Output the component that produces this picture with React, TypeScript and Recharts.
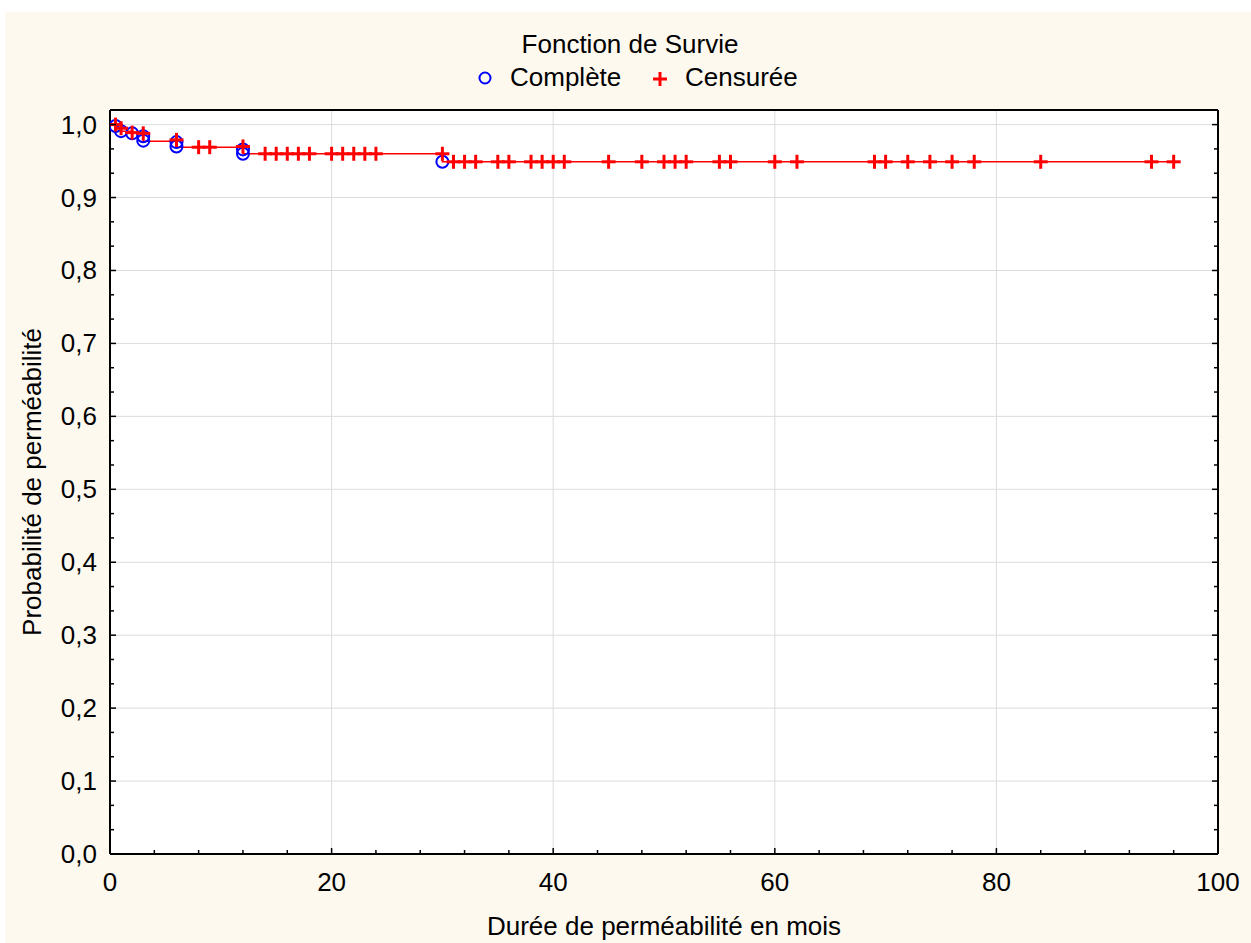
import React from "react";
import { ComposedChart, Line, Scatter, XAxis, YAxis, ReferenceLine, CartesianGrid } from "recharts";

// Kaplan-Meier step line (time in months, survival)
const stepTimes = [0, 0.5, 1, 2, 3, 6, 12, 30, 96];
const stepSurv = [1.0, 0.995, 0.991, 0.988, 0.977, 0.969, 0.96, 0.949, 0.949];

// complete observations (events)
const eventTimes = [0.5, 1, 2, 3, 3, 6, 6, 12, 12, 30];
const eventSurv = [0.998, 0.991, 0.988, 0.984, 0.978, 0.976, 0.97, 0.966, 0.96, 0.949];

// censored observations
const censTimes = [
  0.5, 1, 2, 3, 6, 8, 9, 12,
  14, 15, 16, 17, 18, 20, 21, 22, 23, 24, 30,
  31, 32, 33, 35, 36, 38, 39, 40, 41, 45, 48, 50, 51, 52, 55, 56,
  60, 62, 69, 70, 72, 74, 76, 78, 84, 94, 96,
];
const censSurv = [
  1.0, 0.995, 0.989, 0.988, 0.979, 0.969, 0.969, 0.97,
  0.96, 0.96, 0.96, 0.96, 0.96, 0.96, 0.96, 0.96, 0.96, 0.96, 0.96,
  0.949, 0.949, 0.949, 0.949, 0.949, 0.949, 0.949, 0.949, 0.949, 0.949, 0.949, 0.949, 0.949, 0.949, 0.949, 0.949,
  0.949, 0.949, 0.949, 0.949, 0.949, 0.949, 0.949, 0.949, 0.949, 0.949, 0.949,
];

const xTicks = [0, 20, 40, 60, 80, 100];
const yTicks = [0, 0.1, 0.2, 0.3, 0.4, 0.5, 0.6, 0.7, 0.8, 0.9, 1.0];
const yLabels = ["0,0", "0,1", "0,2", "0,3", "0,4", "0,5", "0,6", "0,7", "0,8", "0,9", "1,0"];

const xMinor = Array.from({ length: 26 }, (_, i) => i * 4);
const yMinor = Array.from({ length: 31 }, (_, i) => i / 30);

const stepData = stepTimes.map((t, i) => ({ t, s: stepSurv[i] }));
const eventData = eventTimes.map((t, i) => ({ t, s: eventSurv[i] }));
const censData = censTimes.map((t, i) => ({ t, s: censSurv[i] }));

const FONT = '"Liberation Sans", Arial, sans-serif';
const FS = 26;

const isMajorX = (v: number) => v % 20 === 0;
const isMajorY = (v: number) => Math.abs(v * 10 - Math.round(v * 10)) < 1e-6;

const BottomTick = (p: any) => {
  const v = p.payload.value;
  const major = isMajorX(v);
  return (
    <g>
      <line x1={p.x} x2={p.x} y1={p.y} y2={p.y - (major ? 6 : 4)} stroke="#000" strokeWidth={1.5} />
      {major && (
        <text x={p.x} y={p.y + 37} textAnchor="middle" fontSize={FS} fontFamily={FONT} fill="#000">
          {v}
        </text>
      )}
    </g>
  );
};

const TopTick = (p: any) => {
  const major = isMajorX(p.payload.value);
  return <line x1={p.x} x2={p.x} y1={p.y} y2={p.y + (major ? 6 : 4)} stroke="#000" strokeWidth={1.5} />;
};

const LeftTick = (p: any) => {
  const v = p.payload.value;
  const major = isMajorY(v);
  const idx = yTicks.findIndex((t) => Math.abs(t - v) < 1e-6);
  return (
    <g>
      <line x1={p.x} x2={p.x + (major ? 6 : 4)} y1={p.y} y2={p.y} stroke="#000" strokeWidth={1.5} />
      {major && idx >= 0 && (
        <text x={p.x - 13} y={p.y + 9} textAnchor="end" fontSize={FS} fontFamily={FONT} fill="#000">
          {yLabels[idx]}
        </text>
      )}
    </g>
  );
};

const RightTick = (p: any) => {
  const major = isMajorY(p.payload.value);
  return <line x1={p.x} x2={p.x - (major ? 6 : 4)} y1={p.y} y2={p.y} stroke="#000" strokeWidth={1.5} />;
};

const Circle = (p: any) => <circle cx={p.cx} cy={p.cy} r={6} fill="none" stroke="#0000ff" strokeWidth={2} />;
const Plus = (p: any) => (
  <g stroke="#ff0000" strokeWidth={3}>
    <line x1={p.cx - 7} x2={p.cx + 7} y1={p.cy} y2={p.cy} />
    <line x1={p.cx} x2={p.cx} y1={p.cy - 7} y2={p.cy + 7} />
  </g>
);

const axisLine = { stroke: "#000", strokeWidth: 2 };

export default function App() {
  return (
    <div style={{ position: "relative", width: 1251, height: 943, background: "#fff", overflow: "hidden" }}>
      <style>{"body{margin:0}"}</style>
      <div style={{ position: "absolute", left: 5, top: 12, width: 1246, height: 931, background: "#fdf9ef" }} />
      <div style={{ position: "absolute", left: 0, top: 0 }}>
        <ComposedChart width={1251} height={943} margin={{ top: 109, right: 32, bottom: 88, left: 109 }}>
          <CartesianGrid horizontal={false} vertical={false} fill="#ffffff" />
          <XAxis
            xAxisId={0}
            dataKey="t"
            type="number"
            domain={[0, 100]}
            ticks={xMinor}
            interval={0}
            height={1}
            tickSize={0}
            tickMargin={0}
            tickLine={false}
            tick={BottomTick}
            axisLine={axisLine}
            allowDataOverflow
          />
          <XAxis
            xAxisId="top"
            orientation="top"
            type="number"
            domain={[0, 100]}
            ticks={xMinor}
            interval={0}
            height={1}
            tickSize={0}
            tickMargin={0}
            tickLine={false}
            tick={TopTick}
            axisLine={axisLine}
            allowDataOverflow
          />
          <YAxis
            yAxisId={0}
            dataKey="s"
            type="number"
            domain={[0, 1.02]}
            ticks={yMinor}
            interval={0}
            width={1}
            tickSize={0}
            tickMargin={0}
            tickLine={false}
            tick={LeftTick}
            axisLine={axisLine}
            allowDataOverflow
          />
          <YAxis
            yAxisId="right"
            orientation="right"
            type="number"
            domain={[0, 1.02]}
            ticks={yMinor}
            interval={0}
            width={1}
            tickSize={0}
            tickMargin={0}
            tickLine={false}
            tick={RightTick}
            axisLine={axisLine}
            allowDataOverflow
          />
          {xTicks.slice(1, -1).map((v) => (
            <ReferenceLine key={"gx" + v} x={v} stroke="#dcdcdc" strokeWidth={1} />
          ))}
          {yTicks.slice(1).map((v) => (
            <ReferenceLine key={"gy" + v} y={v} stroke="#dcdcdc" strokeWidth={1} />
          ))}
          <Line
            data={stepData}
            dataKey="s"
            type="stepAfter"
            stroke="#ff0000"
            strokeWidth={1.5}
            dot={false}
            activeDot={false}
            isAnimationActive={false}
          />
          <Scatter data={eventData} dataKey="s" shape={Circle} isAnimationActive={false} />
          <Scatter data={censData} dataKey="s" shape={Plus} isAnimationActive={false} />
        </ComposedChart>
      </div>
      <svg width={1251} height={943} style={{ position: "absolute", left: 0, top: 0, pointerEvents: "none" }}>
        <g fontFamily={FONT} fill="#000">
          <text x={630} y={53} textAnchor="middle" fontSize={FS}>
            Fonction de Survie
          </text>
          <circle cx={485} cy={78} r={5.5} fill="none" stroke="#0000ff" strokeWidth={2} />
          <text x={510} y={86} fontSize={FS}>
            Complète
          </text>
          <g stroke="#ff0000" strokeWidth={3}>
            <line x1={653} x2={667} y1={79} y2={79} />
            <line x1={660} x2={660} y1={72} y2={86} />
          </g>
          <text x={685} y={86} fontSize={FS}>
            Censurée
          </text>
          <text x={664} y={935} textAnchor="middle" fontSize={FS}>
            Durée de perméabilité en mois
          </text>
          <text x={41} y={482} textAnchor="middle" fontSize={FS} transform="rotate(-90 41 482)">
            Probabilité de perméabilité
          </text>
        </g>
      </svg>
    </div>
  );
}
